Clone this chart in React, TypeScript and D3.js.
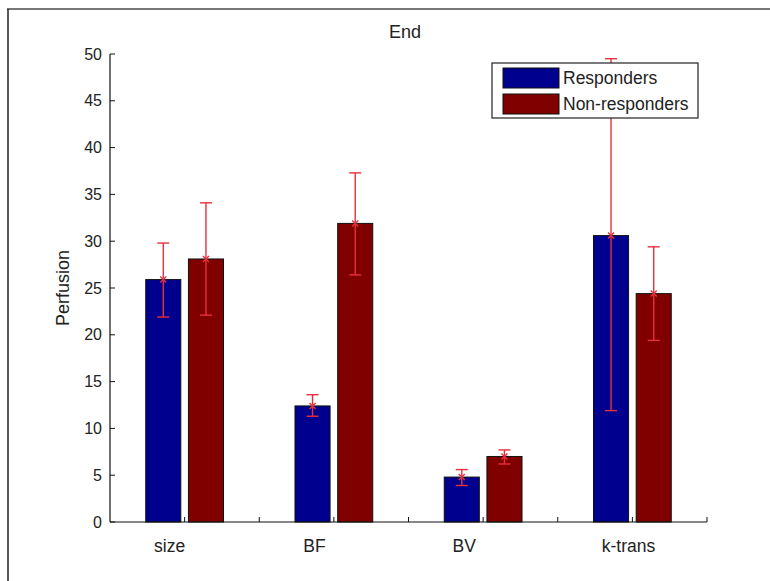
import { useEffect, useRef } from 'react'
import * as d3 from 'd3'

const W = 770, H = 581
const M = { left: 110, right: 63, top: 54, bottom: 58 }

const categories = ['size', 'BF', 'BV', 'k-trans']
const seriesNames = ['Responders', 'Non-responders']
const colors = ['#00008f', '#800000']

// mean, lower, upper for each group
const responders = [25.9, 12.4, 4.8, 30.6]
const respLow = [21.9, 11.3, 3.9, 11.9]
const respHigh = [29.8, 13.6, 5.6, 49.5]
const nonResponders = [28.1, 31.9, 7.0, 24.4]
const nonLow = [22.1, 26.4, 6.2, 19.4]
const nonHigh = [34.1, 37.3, 7.7, 29.4]

const yTicks = [0, 5, 10, 15, 20, 25, 30, 35, 40, 45, 50]
const xTicks = [1, 1.5, 2, 2.5, 3, 3.5, 4, 4.5]

export default function App() {
  const svgRef = useRef<SVGSVGElement>(null)

  useEffect(() => {
    const svg = d3.select(svgRef.current)
    svg.selectAll('*').remove()

    const x = d3.scaleLinear([0.5, 4.5], [M.left, W - M.right])
    const y = d3.scaleLinear([0, 50], [H - M.bottom - 1, M.top])
    const font = 'Liberation Sans, Arial, sans-serif'

    svg.append('rect').attr('width', W).attr('height', H).attr('fill', '#fff')
    // figure frame
    svg.append('line').attr('x1', 7).attr('x2', W).attr('y1', 9).attr('y2', 9)
      .attr('stroke', '#777').attr('stroke-width', 2)
    svg.append('line').attr('x1', 8).attr('x2', 8).attr('y1', 9).attr('y2', H)
      .attr('stroke', '#222').attr('stroke-width', 1.5)

    const series = [
      { vals: responders, lo: respLow, hi: respHigh, off: -0.143 },
      { vals: nonResponders, lo: nonLow, hi: nonHigh, off: 0.143 },
    ]
    const bw = x(1.235) - x(1)

    series.forEach((s, si) => {
      const g = svg.append('g')
      s.vals.forEach((v, i) => {
        const cx = x(i + 1 + s.off)
        g.append('rect')
          .attr('x', cx - bw / 2).attr('y', y(v))
          .attr('width', bw).attr('height', y(0) - y(v))
          .attr('fill', colors[si]).attr('stroke', '#111').attr('stroke-width', 1)
      })
    })

    // error bars
    const red = '#e8303c'
    series.forEach(s => {
      const g = svg.append('g').attr('stroke', red).attr('stroke-width', 1.4)
      s.vals.forEach((v, i) => {
        const cx = x(i + 1 + s.off)
        g.append('line').attr('x1', cx).attr('x2', cx).attr('y1', y(s.lo[i])).attr('y2', y(s.hi[i]))
        ;[s.lo[i], s.hi[i]].forEach(e => {
          g.append('line').attr('x1', cx - 6).attr('x2', cx + 6).attr('y1', y(e)).attr('y2', y(e))
        })
        g.append('path')
          .attr('d', `M${cx - 3},${y(v) - 3}L${cx + 3},${y(v) + 3}M${cx - 3},${y(v) + 3}L${cx + 3},${y(v) - 3}`)
      })
    })

    // axes
    const axisG = svg.append('g').attr('font-family', font).attr('font-size', 16).attr('fill', '#222')
    axisG.append('line').attr('x1', M.left).attr('x2', M.left).attr('y1', y(50)).attr('y2', y(0))
      .attr('stroke', '#111').attr('stroke-width', 1.2)
    axisG.append('line').attr('x1', M.left).attr('x2', x(4.5)).attr('y1', y(0)).attr('y2', y(0))
      .attr('stroke', '#111').attr('stroke-width', 1.2)
    yTicks.forEach(t => {
      axisG.append('line').attr('x1', M.left).attr('x2', M.left + 5).attr('y1', y(t)).attr('y2', y(t))
        .attr('stroke', '#111')
      axisG.append('text').attr('x', M.left - 8).attr('y', y(t)).attr('dy', '0.35em')
        .attr('text-anchor', 'end').text(t)
    })
    xTicks.forEach(t => {
      axisG.append('line').attr('x1', x(t)).attr('x2', x(t)).attr('y1', y(0)).attr('y2', y(0) - 5)
        .attr('stroke', '#111')
    })
    categories.forEach((c, i) => {
      axisG.append('text').attr('x', x(i + 1 - 0.205)).attr('y', 552).attr('font-size', 17.5).text(c)
    })

    svg.append('text').attr('transform', `translate(69,${y(25)}) rotate(-90)`)
      .attr('text-anchor', 'middle').attr('font-family', font).attr('font-size', 18).attr('fill', '#222')
      .text('Perfusion')
    svg.append('text').attr('x', 405).attr('y', 38).attr('text-anchor', 'middle')
      .attr('font-family', font).attr('font-size', 18).attr('fill', '#222').text('End')

    // legend
    const lg = svg.append('g').attr('font-family', font).attr('font-size', 17.5).attr('fill', '#222')
    lg.append('rect').attr('x', 492).attr('y', 63).attr('width', 206).attr('height', 55)
      .attr('fill', '#fff').attr('stroke', '#222').attr('stroke-width', 1.2)
    seriesNames.forEach((n, i) => {
      lg.append('rect').attr('x', 503).attr('y', 68 + i * 26).attr('width', 56).attr('height', 20)
        .attr('fill', colors[i]).attr('stroke', '#111')
      lg.append('text').attr('x', 563).attr('y', 78 + i * 26).attr('dy', '0.35em').text(n)
    })
  }, [])

  return (
    <svg ref={svgRef} width={W} height={H} viewBox={`0 0 ${W} ${H}`}
      style={{ position: 'absolute', left: 0, top: 0 }} />
  )
}
